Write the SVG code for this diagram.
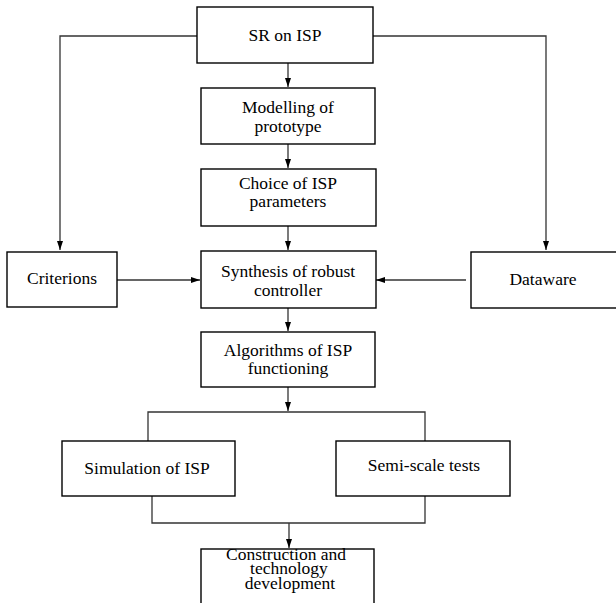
<svg xmlns="http://www.w3.org/2000/svg" width="616" height="603" viewBox="0 0 616 603">
<defs>
<marker id="ah" markerUnits="userSpaceOnUse" markerWidth="10" markerHeight="7" refX="9" refY="3" orient="auto">
<path d="M0,0 L9,3 L0,6 Z" fill="#000"/>
</marker>
<style>
.box{fill:#fff;stroke:#000;stroke-width:1.4}
.t{font-family:'Liberation Serif',serif;font-size:17.5px;fill:#000;text-anchor:middle}
.c{fill:none;stroke:#333;stroke-width:1.3}
.a{marker-end:url(#ah)}
</style>
</defs>
<rect width="616" height="603" fill="#fff"/>
<g id="connectors">
<path class="c a" d="M197,36 H60 V250"/>
<path class="c a" d="M373,36 H546 V250"/>
<path class="c a" d="M288,63 V87"/>
<path class="c a" d="M288,144 V168"/>
<path class="c a" d="M288,226 V250"/>
<path class="c a" d="M117,280 H200"/>
<path class="c a" d="M466,280 H376"/>
<path class="c a" d="M288,308 V331"/>
<path class="c a" d="M288,387 V411"/>
<path class="c" d="M148,441 V412 H425 V441"/>
<path class="c" d="M152,496 V523 H425 V496"/>
<path class="c a" d="M289,523 V548"/>
</g>
<g font-family="Liberation Serif, serif">
<g id="sr-on-isp"><rect class="box" x="197" y="7" width="176" height="56"/><text class="t" x="285" y="41">SR on ISP</text></g>
<g id="modelling"><rect class="box" x="201" y="88" width="174" height="56"/><text class="t" x="288" y="112.5">Modelling of</text><text class="t" x="288" y="131.5">prototype</text></g>
<g id="choice"><rect class="box" x="201" y="169" width="175" height="57"/><text class="t" x="288" y="189">Choice of ISP</text><text class="t" x="288" y="207">parameters</text></g>
<g id="criterions"><rect class="box" x="7" y="252" width="110" height="55"/><text class="t" x="62" y="284">Criterions</text></g>
<g id="synthesis"><rect class="box" x="201" y="251" width="175" height="57"/><text class="t" x="288" y="276.5">Synthesis of robust</text><text class="t" x="288" y="295.5">controller</text></g>
<g id="dataware"><rect class="box" x="471" y="252" width="160" height="56"/><text class="t" x="543" y="285">Dataware</text></g>
<g id="algorithms"><rect class="box" x="201" y="332" width="174" height="55"/><text class="t" x="288" y="356">Algorithms of ISP</text><text class="t" x="288" y="373.5">functioning</text></g>
<g id="simulation"><rect class="box" x="62" y="441" width="173" height="55"/><text class="t" x="147" y="474">Simulation of ISP</text></g>
<g id="semi-scale"><rect class="box" x="336" y="441" width="174" height="55"/><text class="t" x="424" y="470.5">Semi-scale tests</text></g>
<g id="construction"><rect class="box" x="201" y="549" width="173" height="70"/><text class="t" x="286" y="559.5">Construction and</text><text class="t" x="289" y="574">technology</text><text class="t" x="290" y="589">development</text></g>
</g>
</svg>
